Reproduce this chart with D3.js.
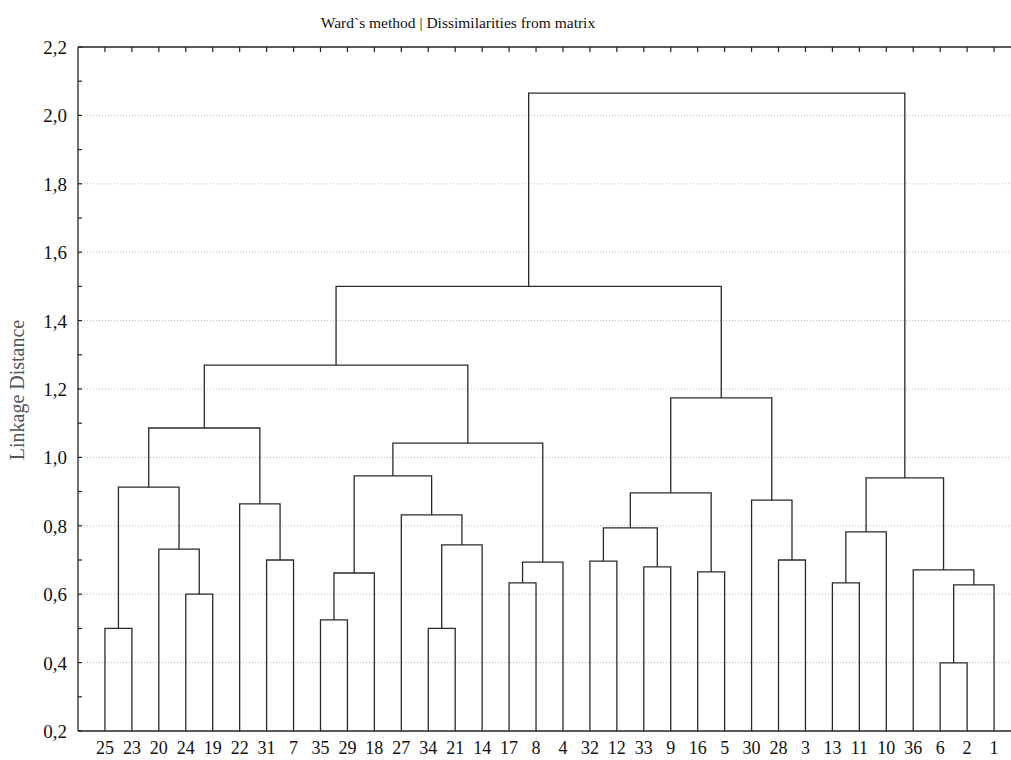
<!DOCTYPE html>
<html>
<head>
<meta charset="utf-8">
<script src="https://cdn.jsdelivr.net/npm/d3@7"></script>
<style>
  body { margin: 0; background: #fff; }
  text { font-family: "Liberation Serif", "Times New Roman", serif; }
</style>
</head>
<body>
<svg id="chart" width="1011" height="760"></svg>
<script>
// leaf order along the bottom
const leaves = ["25","23","20","24","19","22","31","7","35","29","18","27","34","21","14","17","8","4",
                "32","12","33","9","16","5","30","28","3","13","11","10","36","6","2","1"];

// merges: [left, right, height]; "cN" points to merge N
const merges = [
  ["25","23",0.500],  // c0
  ["24","19",0.600],  // c1
  ["20","c1",0.732],  // c2
  ["c0","c2",0.913],  // c3
  ["31","7",0.700],   // c4
  ["22","c4",0.864],  // c5
  ["c3","c5",1.086],  // c6
  ["35","29",0.525],  // c7
  ["c7","18",0.662],  // c8
  ["34","21",0.500],  // c9
  ["c9","14",0.744],  // c10
  ["27","c10",0.832], // c11
  ["c8","c11",0.946], // c12
  ["17","8",0.633],   // c13
  ["c13","4",0.694],  // c14
  ["c12","c14",1.042],// c15
  ["c6","c15",1.270], // c16
  ["32","12",0.697],  // c17
  ["33","9",0.680],   // c18
  ["c17","c18",0.794],// c19
  ["16","5",0.665],   // c20
  ["c19","c20",0.896],// c21
  ["28","3",0.700],   // c22
  ["30","c22",0.875], // c23
  ["c21","c23",1.174],// c24
  ["c16","c24",1.500],// c25
  ["13","11",0.633],  // c26
  ["c26","10",0.782], // c27
  ["6","2",0.399],    // c28
  ["c28","1",0.627],  // c29
  ["36","c29",0.671], // c30
  ["c27","c30",0.940],// c31
  ["c25","c31",2.065] // c32
];

const yTicks = [0.2,0.4,0.6,0.8,1.0,1.2,1.4,1.6,1.8,2.0,2.2];
const yMinor = [0.3,0.5,0.7,0.9,1.1,1.3,1.5,1.7,1.9,2.1];

const svg = d3.select("#chart");
const pl = 78, pt = 47, pb = 731;
const pr = 1021; // plot runs past the picture edge

const x = d3.scalePoint().domain(leaves).range([pl, pr]).padding(1);
const y = d3.scaleLinear().domain([0.2, 2.2]).range([pb, pt]);

const fmt = d => d3.format(".1f")(d).replace(".", ",");

// gridlines
svg.append("g").selectAll("line")
  .data(yTicks.filter(d => d > 0.2 && d < 2.2))
  .join("line")
  .attr("x1", pl).attr("x2", pr)
  .attr("y1", d => y(d)).attr("y2", d => y(d))
  .attr("stroke", "#bbb").attr("stroke-width", 1)
  .attr("stroke-dasharray", "1,2");

// work out position of each node
const nodes = {};
leaves.forEach(l => { nodes[l] = { x: x(l), h: 0.2 }; });
merges.forEach((m, i) => {
  const a = nodes[m[0]], b = nodes[m[1]];
  nodes["c" + i] = { x: (a.x + b.x) / 2, h: m[2], a: a, b: b };
});

svg.append("g").selectAll("path")
  .data(merges.map((m, i) => nodes["c" + i]))
  .join("path")
  .attr("d", n => `M${n.a.x},${y(n.a.h)}V${y(n.h)}H${n.b.x}V${y(n.b.h)}`)
  .attr("fill", "none")
  .attr("stroke", "#2a2a2a")
  .attr("stroke-width", 1.3);

// frame: left, top, bottom
const frame = svg.append("g").attr("stroke", "#222").attr("stroke-width", 1.3);
frame.append("line").attr("x1", pl).attr("x2", pl).attr("y1", pt).attr("y2", pb);
frame.append("line").attr("x1", pl).attr("x2", pr).attr("y1", pt).attr("y2", pt);
frame.append("line").attr("x1", pl).attr("x2", pr).attr("y1", pb).attr("y2", pb);

// top ticks at leaf positions
svg.append("g").selectAll("line")
  .data(leaves).join("line")
  .attr("x1", d => x(d)).attr("x2", d => x(d))
  .attr("y1", pt).attr("y2", pt + 5)
  .attr("stroke", "#222").attr("stroke-width", 1.2);

// y ticks
svg.append("g").selectAll("line")
  .data(yTicks.concat(yMinor)).join("line")
  .attr("x1", pl).attr("x2", pl + 4)
  .attr("y1", d => y(d)).attr("y2", d => y(d))
  .attr("stroke", "#222").attr("stroke-width", 1.2);

svg.append("g").selectAll("text")
  .data(yTicks).join("text")
  .attr("x", 67).attr("y", d => y(d) + 7)
  .attr("text-anchor", "end")
  .attr("font-size", 19)
  .attr("fill", "#111")
  .text(fmt);

// leaf labels
svg.append("g").selectAll("text")
  .data(leaves).join("text")
  .attr("x", d => x(d)).attr("y", 754)
  .attr("text-anchor", "middle")
  .attr("font-size", 18)
  .attr("fill", "#111")
  .text(d => d);

svg.append("text")
  .attr("x", 458).attr("y", 28)
  .attr("text-anchor", "middle")
  .attr("font-size", 15.5)
  .attr("fill", "#111")
  .text("Ward`s method | Dissimilarities from matrix");

svg.append("text")
  .attr("transform", "translate(24,390) rotate(-90)")
  .attr("text-anchor", "middle")
  .attr("font-size", 20)
  .attr("fill", "#555")
  .text("Linkage Distance");
</script>
</body>
</html>
